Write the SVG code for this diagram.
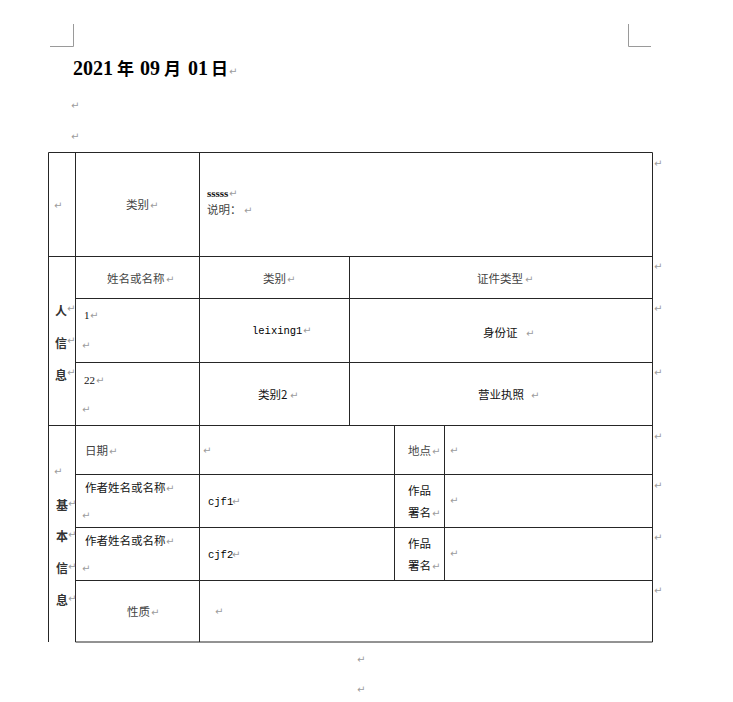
<svg xmlns="http://www.w3.org/2000/svg" width="733" height="702" viewBox="0 0 733 702">
<style>
.bg{fill:#fff}
.ln{stroke:#262626;stroke-width:1;fill:none}
.cm{stroke:#9a9a9a;stroke-width:1;fill:none}
.t{font-family:"Noto Sans CJK SC","Liberation Sans",sans-serif;font-size:11.5px;fill:#111}
.g{fill:#444}
.v{font-family:"Noto Sans CJK SC","Liberation Sans",sans-serif;font-size:12px;font-weight:bold;fill:#333}
.m{font-family:"Liberation Mono","DejaVu Sans Mono",monospace;font-size:10.5px;fill:#000}
.n{font-family:"Liberation Serif",serif;font-size:11px;fill:#111}
.rm{font-family:"DejaVu Sans",sans-serif;font-size:10px;fill:#9c9c9c}
.ti{font-family:"Liberation Serif","Noto Sans CJK SC",serif;font-weight:bold;fill:#000}
</style>
<rect class="bg" width="733" height="702"/>
<g id="corner-marks">
<path class="cm" d="M73.5 24 V46.5 H50"/>
<path class="cm" d="M628.5 24 V46.5 H651"/>
</g>
<g id="title">
<text class="ti" y="75" font-size="20"><tspan x="73">2021</tspan><tspan x="117" font-family="Noto Sans CJK SC,sans-serif" font-size="17">年</tspan><tspan x="140">09</tspan><tspan x="164" font-family="Noto Sans CJK SC,sans-serif" font-size="17">月</tspan><tspan x="188">01</tspan><tspan x="211" font-family="Noto Sans CJK SC,sans-serif" font-size="17">日</tspan></text>
<text class="rm" x="229" y="75" font-size="11">↵</text>
<text class="rm" x="71" y="109">↵</text>
<text class="rm" x="71" y="140">↵</text>
</g>
<g id="table-lines">
<line class="ln" x1="48.5" y1="152.5" x2="652.5" y2="152.5"/>
<line class="ln" x1="48.5" y1="256.5" x2="652.5" y2="256.5"/>
<line class="ln" x1="75.5" y1="298.5" x2="652.5" y2="298.5"/>
<line class="ln" x1="75.5" y1="362.5" x2="652.5" y2="362.5"/>
<line class="ln" x1="48.5" y1="425.5" x2="652.5" y2="425.5"/>
<line class="ln" x1="75.5" y1="474.5" x2="652.5" y2="474.5"/>
<line class="ln" x1="75.5" y1="527.5" x2="652.5" y2="527.5"/>
<line class="ln" x1="75.5" y1="580.5" x2="652.5" y2="580.5"/>
<line class="ln" x1="75.5" y1="642" x2="652.5" y2="642"/>
<line class="ln" x1="48.5" y1="152.5" x2="48.5" y2="642"/>
<line class="ln" x1="75.5" y1="152.5" x2="75.5" y2="642"/>
<line class="ln" x1="199.5" y1="152.5" x2="199.5" y2="642"/>
<line class="ln" x1="349.5" y1="256.5" x2="349.5" y2="425.5"/>
<line class="ln" x1="394.5" y1="425.5" x2="394.5" y2="580.5"/>
<line class="ln" x1="444.5" y1="425.5" x2="444.5" y2="580.5"/>
<line class="ln" x1="652.5" y1="152.5" x2="652.5" y2="642"/>
</g>
<g id="row-category">
<text class="rm" x="54" y="209">↵</text>
<text class="t g" x="126" y="209">类别</text><text class="rm" x="150" y="209">↵</text>
<text class="n" x="207" y="197" font-size="8" font-weight="bold">sssss</text><text class="rm" x="229" y="197" font-size="8">↵</text>
<text class="t g" x="207" y="214">说明：</text><text class="rm" x="244" y="214">↵</text>
</g>
<g id="section-person">
<text class="v" x="55" y="316">人</text><text class="rm" x="67" y="312">↵</text>
<text class="v" x="55" y="348">信</text><text class="rm" x="67" y="344">↵</text>
<text class="v" x="55" y="380">息</text><text class="rm" x="67" y="376">↵</text>
</g>
<g id="person-header">
<text class="t g" x="107" y="283">姓名或名称</text><text class="rm" x="166" y="283">↵</text>
<text class="t g" x="263" y="283">类别</text><text class="rm" x="287" y="283">↵</text>
<text class="t g" x="477" y="283">证件类型</text><text class="rm" x="525" y="283">↵</text>
</g>
<g id="person-row-1">
<text class="n" x="84" y="319">1</text><text class="rm" x="90" y="319">↵</text>
<text class="rm" x="82" y="349">↵</text>
<text class="m" x="252" y="334">leixing1</text><text class="rm" x="303" y="334">↵</text>
<text class="t" x="483" y="337">身份证</text><text class="rm" x="526" y="337">↵</text>
</g>
<g id="person-row-2">
<text class="n" x="84" y="384">22</text><text class="rm" x="96" y="384">↵</text>
<text class="rm" x="82" y="413">↵</text>
<text class="t" x="258" y="399">类别2</text><text class="rm" x="290" y="399">↵</text>
<text class="t" x="478" y="399">营业执照</text><text class="rm" x="531" y="399">↵</text>
</g>
<g id="section-basic">
<text class="rm" x="54" y="475">↵</text>
<text class="v" x="56" y="510">基</text><text class="rm" x="68" y="507">↵</text>
<text class="v" x="56" y="541">本</text><text class="rm" x="68" y="538">↵</text>
<text class="v" x="56" y="573">信</text><text class="rm" x="68" y="570">↵</text>
<text class="v" x="56" y="605">息</text><text class="rm" x="68" y="602">↵</text>
</g>
<g id="basic-row-date">
<text class="t g" x="85" y="455">日期</text><text class="rm" x="109" y="455">↵</text>
<text class="rm" x="203" y="454">↵</text>
<text class="t g" x="408" y="455">地点</text><text class="rm" x="432" y="455">↵</text>
<text class="rm" x="450" y="454">↵</text>
</g>
<g id="basic-row-author-1">
<text class="t" x="85" y="492">作者姓名或名称</text><text class="rm" x="166" y="492">↵</text>
<text class="rm" x="82" y="519">↵</text>
<text class="m" x="208" y="505" font-size="10">cjf1</text><text class="rm" x="232" y="505">↵</text>
<text class="t" x="408" y="495">作品</text>
<text class="t" x="408" y="517">署名</text><text class="rm" x="432" y="517">↵</text>
<text class="rm" x="450" y="504">↵</text>
</g>
<g id="basic-row-author-2">
<text class="t" x="85" y="545">作者姓名或名称</text><text class="rm" x="166" y="545">↵</text>
<text class="rm" x="82" y="572">↵</text>
<text class="m" x="208" y="558" font-size="10">cjf2</text><text class="rm" x="232" y="558">↵</text>
<text class="t" x="408" y="548">作品</text>
<text class="t" x="408" y="570">署名</text><text class="rm" x="432" y="570">↵</text>
<text class="rm" x="450" y="557">↵</text>
</g>
<g id="basic-row-nature">
<text class="t g" x="127" y="616">性质</text><text class="rm" x="151" y="616">↵</text>
<text class="rm" x="215" y="615">↵</text>
</g>
<g id="row-end-marks">
<text class="rm" x="654" y="167">↵</text>
<text class="rm" x="654" y="270">↵</text>
<text class="rm" x="654" y="312">↵</text>
<text class="rm" x="654" y="376">↵</text>
<text class="rm" x="654" y="440">↵</text>
<text class="rm" x="654" y="489">↵</text>
<text class="rm" x="654" y="541">↵</text>
<text class="rm" x="654" y="594">↵</text>
<text class="rm" x="357" y="663">↵</text>
<text class="rm" x="357" y="693">↵</text>
</g>
</svg>
